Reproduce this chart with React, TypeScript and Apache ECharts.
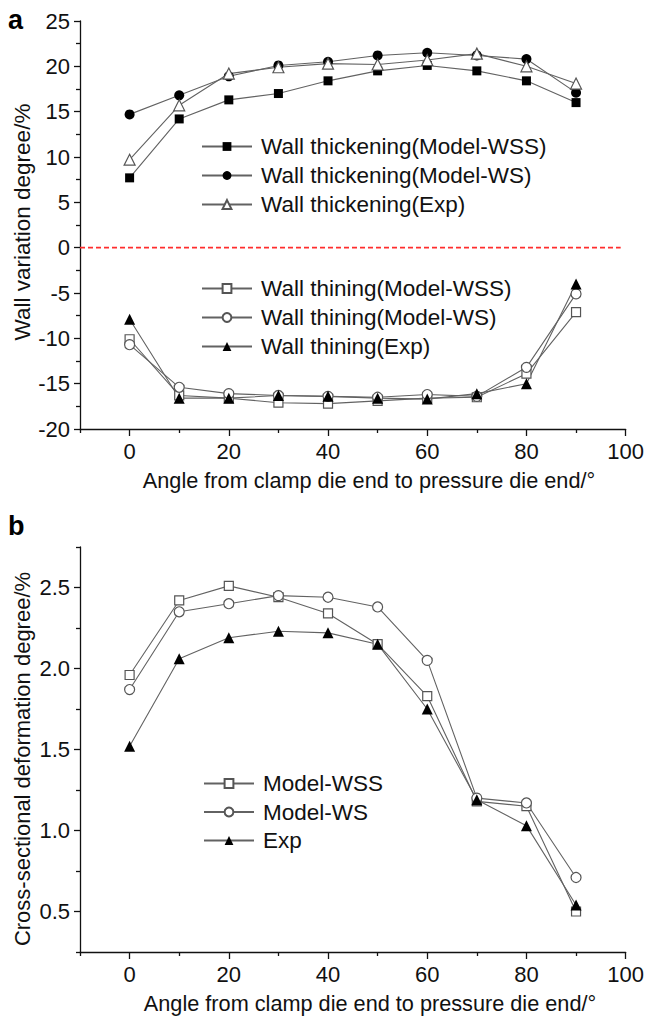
import React, { useEffect, useRef } from "react";
import * as echarts from "echarts";

// Bending angle positions (degrees) shared by both panels
const angles = [0, 10, 20, 30, 40, 50, 60, 70, 80, 90];

// Panel a: wall thickening (%)
const thickWSS = [7.7, 14.2, 16.3, 17.0, 18.4, 19.5, 20.1, 19.5, 18.4, 16.0];
const thickWS = [14.7, 16.8, 18.9, 20.1, 20.5, 21.2, 21.5, 21.2, 20.8, 17.1];
const thickExp = [9.7, 15.7, 19.2, 19.9, 20.3, 20.2, 20.7, 21.4, 20.0, 18.1];

// Panel a: wall thinning (%)
const thinWSS = [-10.1, -16.3, -16.6, -17.1, -17.2, -16.9, -16.6, -16.5, -13.9, -7.1];
const thinWS = [-10.7, -15.4, -16.1, -16.3, -16.4, -16.5, -16.2, -16.4, -13.2, -5.1];
const thinExp = [-7.9, -16.6, -16.6, -16.3, -16.4, -16.6, -16.7, -16.1, -15.0, -4.0];

// Panel a: zero reference line (from x = -10 to 99)
const zeroLineX = [-10, 99];
const zeroLineY = [0, 0];

// Panel b: cross-sectional deformation degree (%)
const csWSS = [1.96, 2.42, 2.51, 2.44, 2.34, 2.15, 1.83, 1.18, 1.15, 0.5];
const csWS = [1.87, 2.35, 2.4, 2.45, 2.44, 2.38, 2.05, 1.2, 1.17, 0.71];
const csExp = [1.52, 2.06, 2.19, 2.23, 2.22, 2.15, 1.75, 1.19, 1.03, 0.54];

// Axis tick values
const xMajor = [0, 20, 40, 60, 80, 100];
const xMinor = [-10, 10, 30, 50, 70, 90];
const aMajor = [-20, -15, -10, -5, 0, 5, 10, 15, 20, 25];
const aMinor = [-17.5, -12.5, -7.5, -2.5, 2.5, 7.5, 12.5, 17.5, 22.5];
const bMajor = [0.5, 1.0, 1.5, 2.0, 2.5];
const bMinor = [0.25, 0.75, 1.25, 1.75, 2.25, 2.75];

const topThickNames = [
  "Wall thickening(Model-WSS)",
  "Wall thickening(Model-WS)",
  "Wall thickening(Exp)",
];
const topThinNames = [
  "Wall thining(Model-WSS)",
  "Wall thining(Model-WS)",
  "Wall thining(Exp)",
];
const bottomNames = ["Model-WSS", "Model-WS", "Exp"];

const FONT = "'Liberation Sans', Arial, Helvetica, sans-serif";
const INK = "#111";

type Kind = "sq" | "ci" | "tri";

function makeSeries(name: string, values: number[], kind: Kind, filled: boolean, panel: number) {
  const symbol = kind === "sq" ? "rect" : kind === "ci" ? "circle" : "triangle";
  const size = kind === "sq" ? 9 : kind === "ci" ? 10 : 11;
  return {
    type: "line",
    name,
    data: angles.map((a, i) => [a, values[i]]),
    xAxisIndex: panel === 0 ? 0 : 2,
    yAxisIndex: panel === 0 ? 0 : 2,
    symbol,
    symbolSize: size,
    showSymbol: true,
    z: 3,
    lineStyle: { color: "#626262", width: 1.1 },
    itemStyle: filled
      ? { color: "#000", borderColor: "#000", borderWidth: 0 }
      : { color: "#fff", borderColor: "#555", borderWidth: 1.2 },
    emphasis: { disabled: true },
  };
}

function legendBox(names: string[], top: number, left: number, gap: number) {
  return {
    data: names,
    orient: "vertical",
    left,
    top,
    padding: 0,
    itemWidth: 50,
    itemHeight: 11,
    itemGap: gap,
    selectedMode: false,
    textStyle: {
      fontFamily: FONT,
      fontSize: 22.5,
      color: INK,
      lineHeight: 22,
      padding: [0, 0, 0, 4],
    },
  };
}

const axisText = { fontFamily: FONT, fontSize: 22, color: INK };
const tickLine = { color: INK, width: 1.3 };

function mainAxis(grid: number, dim: "x" | "y", min: number, max: number, ticks: number[], fmt?: (v: number) => string) {
  return {
    type: "value",
    gridIndex: grid,
    position: dim === "x" ? "bottom" : "left",
    min,
    max,
    axisLine: { show: true, onZero: false, lineStyle: tickLine },
    axisTick: { show: true, customValues: ticks, length: dim === "x" ? 7 : 6, lineStyle: tickLine },
    axisLabel: {
      ...axisText,
      customValues: ticks,
      margin: dim === "x" ? 11 : 10,
      ...(fmt ? { formatter: fmt } : {}),
    },
    splitLine: { show: false },
  };
}

function minorAxis(grid: number, dim: "x" | "y", min: number, max: number, ticks: number[]) {
  return {
    type: "value",
    gridIndex: grid,
    position: dim === "x" ? "bottom" : "left",
    min,
    max,
    axisLine: { show: false, onZero: false },
    axisTick: { show: true, customValues: ticks, length: 4, lineStyle: tickLine },
    axisLabel: { show: false },
    splitLine: { show: false },
  };
}

export default function App() {
  const ref = useRef<HTMLDivElement>(null);

  useEffect(() => {
    document.body.style.margin = "0";
    if (!ref.current) return;
    const chart = echarts.init(ref.current, undefined, { renderer: "svg" });

    const option = {
      animation: false,
      backgroundColor: "#fff",
      grid: [
        { left: 80, right: 20, top: 21, height: 408 },
        { left: 80, right: 20, top: 547, height: 405 },
      ],
      xAxis: [
        mainAxis(0, "x", -10, 100, xMajor),
        minorAxis(0, "x", -10, 100, xMinor),
        mainAxis(1, "x", -10, 100, xMajor),
        minorAxis(1, "x", -10, 100, xMinor),
      ],
      yAxis: [
        mainAxis(0, "y", -20, 25, aMajor),
        minorAxis(0, "y", -20, 25, aMinor),
        mainAxis(1, "y", 0.25, 2.75, bMajor, (v: number) => v.toFixed(1)),
        minorAxis(1, "y", 0.25, 2.75, bMinor),
      ],
      legend: [
        legendBox(topThickNames, 135, 201, 6),
        legendBox(topThinNames, 277, 201, 6),
        legendBox(bottomNames, 772, 203, 5.5),
      ],
      series: [
        {
          type: "line",
          name: "zero",
          data: zeroLineX.map((x, i) => [x, zeroLineY[i]]),
          xAxisIndex: 0,
          yAxisIndex: 0,
          symbol: "none",
          z: 1,
          lineStyle: { color: "#ff2e2e", type: [5, 3], width: 1.6 },
          emphasis: { disabled: true },
          silent: true,
        },
        makeSeries(topThickNames[0], thickWSS, "sq", true, 0),
        makeSeries(topThickNames[1], thickWS, "ci", true, 0),
        makeSeries(topThickNames[2], thickExp, "tri", false, 0),
        makeSeries(topThinNames[0], thinWSS, "sq", false, 0),
        makeSeries(topThinNames[1], thinWS, "ci", false, 0),
        makeSeries(topThinNames[2], thinExp, "tri", true, 0),
        makeSeries(bottomNames[0], csWSS, "sq", false, 1),
        makeSeries(bottomNames[1], csWS, "ci", false, 1),
        makeSeries(bottomNames[2], csExp, "tri", true, 1),
      ],
      graphic: [
        {
          type: "text",
          left: 8,
          top: 6,
          style: { text: "a", font: `bold 27px ${FONT}`, fill: "#000" },
        },
        {
          type: "text",
          left: 8,
          top: 512,
          style: { text: "b", font: `bold 27px ${FONT}`, fill: "#000" },
        },
        {
          type: "text",
          x: 369,
          y: 480,
          style: {
            text: "Angle from clamp die end to pressure die end/°",
            font: `21.7px ${FONT}`,
            fill: INK,
            align: "center",
            verticalAlign: "middle",
          },
        },
        {
          type: "text",
          x: 370,
          y: 1003,
          style: {
            text: "Angle from clamp die end to pressure die end/°",
            font: `21.7px ${FONT}`,
            fill: INK,
            align: "center",
            verticalAlign: "middle",
          },
        },
        {
          type: "text",
          x: 22,
          y: 222,
          rotation: Math.PI / 2,
          style: {
            text: "Wall variation degree/%",
            font: `22.5px ${FONT}`,
            fill: INK,
            align: "center",
            verticalAlign: "middle",
          },
        },
        {
          type: "text",
          x: 22,
          y: 759,
          rotation: Math.PI / 2,
          style: {
            text: "Cross-sectional deformation degree/%",
            font: `22px ${FONT}`,
            fill: INK,
            align: "center",
            verticalAlign: "middle",
          },
        },
      ],
    };

    chart.setOption(option as any);
    return () => {
      chart.dispose();
    };
  }, []);

  return <div ref={ref} style={{ width: 647, height: 1017 }} />;
}
